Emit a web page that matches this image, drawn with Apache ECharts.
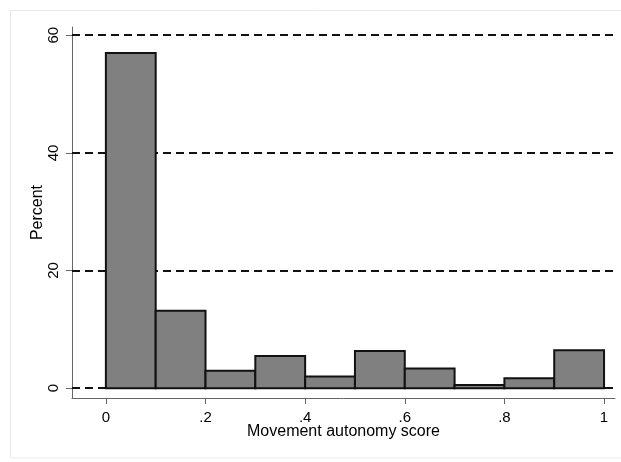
<!DOCTYPE html>
<html>
<head>
<meta charset="utf-8">
<script src="https://cdn.jsdelivr.net/npm/echarts@6/dist/echarts.min.js"></script>
<style>html,body{margin:0;padding:0;background:#fff}#c{width:621px;height:462px}</style>
</head>
<body>
<div id="c"></div>
<script>
const binStarts = [0, 0.1, 0.2, 0.3, 0.4, 0.5, 0.6, 0.7, 0.8, 0.9];
const binWidth = 0.1;
const percents = [57.0, 13.15, 2.95, 5.45, 2.0, 6.3, 3.35, 0.55, 1.7, 6.45];
const xTicks = [0, 0.2, 0.4, 0.6, 0.8, 1];
const yTicks = [0, 20, 40, 60];
const xTitle = 'Movement autonomy score';
const yTitle = 'Percent';

const font = 'Liberation Sans, Arial, sans-serif';
const data = binStarts.map((s, i) => [s, s + binWidth, percents[i]]);
const fmtX = v => { if (v === 0) return '0'; if (v === 1) return '1'; return String(+v.toFixed(1)).replace(/^0/, ''); };

const chart = echarts.init(document.getElementById('c'), null, {renderer: 'canvas'});
chart.setOption({
  animation: false,
  backgroundColor: '#fff',
  graphic: [{type: 'rect', shape: {x: 10.5, y: 10.5, width: 700, height: 447.5}, style: {fill: 'none', stroke: '#e8e8e8', lineWidth: 1}, z: -10}],
  grid: {left: 72, right: 6, top: 27, bottom: 64},
  xAxis: {
    type: 'value', min: -0.068, max: 1.022,
    name: xTitle, nameLocation: 'middle', nameGap: 26, nameMoveOverlap: false,
    nameTextStyle: {fontFamily: font, fontSize: 16, color: '#000'},
    axisLine: {show: true, onZero: false, lineStyle: {color: '#666', width: 1}},
    axisTick: {show: true, length: 6, customValues: xTicks, lineStyle: {color: '#666'}},
    axisLabel: {customValues: xTicks, formatter: fmtX, fontFamily: font, fontSize: 15, color: '#000', margin: 12},
    splitLine: {show: false}
  },
  yAxis: {
    type: 'value', min: -1.67, max: 61.4,
    name: yTitle, nameLocation: 'middle', nameGap: 26, nameRotate: 90, nameMoveOverlap: false,
    nameTextStyle: {fontFamily: font, fontSize: 16, color: '#000'},
    axisLine: {show: true, onZero: false, lineStyle: {color: '#666', width: 1}},
    axisTick: {show: true, length: 6, customValues: yTicks, lineStyle: {color: '#666'}},
    axisLabel: {customValues: yTicks, rotate: 90, fontFamily: font, fontSize: 15, color: '#000', margin: 11},
    splitLine: {show: false}
  },
  series: [
    {
      type: 'line', data: [], z: 1, silent: true,
      markLine: {
        silent: true, symbol: 'none', label: {show: false},
        lineStyle: {type: [8, 5], color: '#111', width: 2},
        data: yTicks.map(v => ({yAxis: v}))
      }
    },
    {
      type: 'custom', z: 5,
      renderItem: function (params, api) {
        const p0 = api.coord([api.value(0), 0]);
        const p1 = api.coord([api.value(1), api.value(2)]);
        return {
          type: 'rect',
          shape: {x: p0[0], y: p1[1], width: p1[0] - p0[0], height: p0[1] - p1[1]},
          style: {fill: '#808080', stroke: '#111', lineWidth: 2}
        };
      },
      encode: {x: [0, 1], y: 2},
      data: data
    }
  ]
});
</script>
</body>
</html>
